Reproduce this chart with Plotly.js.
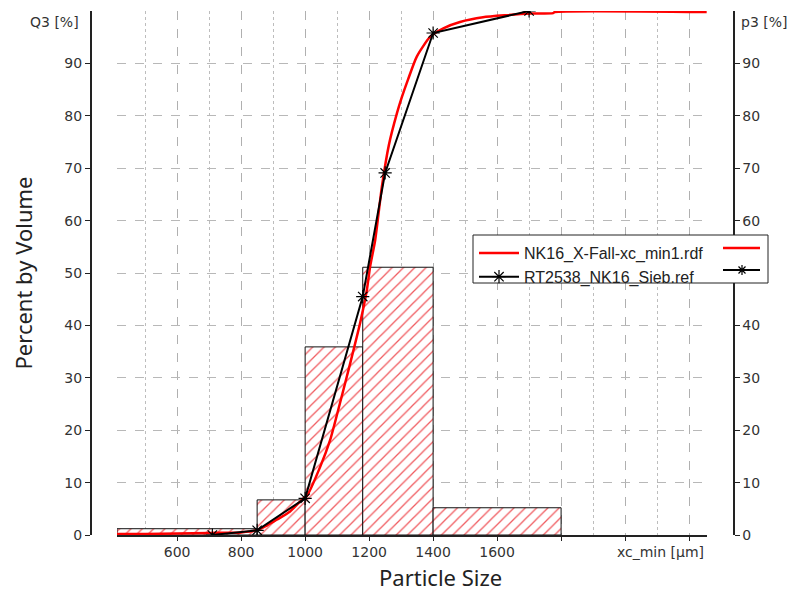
<!DOCTYPE html>
<html>
<head>
<meta charset="utf-8">
<script src="https://cdn.plot.ly/plotly-3.0.1.min.js"></script>
<style>html,body{margin:0;padding:0;background:#fff;}#chart{width:790px;height:591px;}</style>
</head>
<body>
<div id="chart"></div>
<script>
// ---- data ----
const rdfName = 'NK16_X-Fall-xc_min1.rdf';
const sieveName = 'RT2538_NK16_Sieb.ref';

// cumulative Q3 of the rdf file (red)
const rdfSize = [412, 500, 600, 700, 800, 850, 880, 911, 953, 995, 1005, 1047, 1078, 1109, 1141, 1172, 1193, 1203, 1219, 1240, 1262, 1287, 1302, 1322, 1349, 1391, 1432, 1484, 1556, 1630, 1703, 1775, 1780, 2255];
const rdfQ3   = [0.2, 0.2, 0.3, 0.4, 0.5, 0.9, 1.8, 2.9, 4.5, 7.0, 7.4, 13.0, 18.1, 25.2, 32.8, 40.5, 46.8, 51.2, 56.3, 66.5, 74.5, 80.5, 83.5, 87.0, 91.3, 95.1, 96.7, 97.9, 98.8, 99.2, 99.5, 99.6, 99.8, 99.8];

// cumulative Q3 of the sieve reference (black, stars)
const sieveSize = [710, 850, 1000, 1180, 1250, 1400, 1700];
const sieveQ3   = [0, 0.9, 7.0, 45.5, 69.1, 95.8, 100];

// class histogram (hatched bars)
const binEdges   = [412, 850, 1000, 1180, 1400, 1800];
const binHeights = [1.2, 6.7, 35.9, 51.1, 5.2];

// ticks
const xTickVals = [600, 800, 1000, 1200, 1400, 1600, 1800, 2000, 2200];
const xTickText = ['600', '800', '1000', '1200', '1400', '1600', '', '', ''];
const xMinorVals = [500, 700, 900, 1100, 1300, 1500, 1700, 1900, 2100];
const yTickVals = [0, 10, 20, 30, 40, 50, 60, 70, 80, 90];

// ---- build ----
const binCenters = binHeights.map((_, i) => (binEdges[i] + binEdges[i + 1]) / 2);
const binWidths  = binHeights.map((_, i) => binEdges[i + 1] - binEdges[i]);

const tickFont = {family: 'DejaVu Sans', size: 14, color: '#333'};
const titleFont = {family: 'Noto Sans', size: 22, color: '#222'};
const L = 90, R = 57, T = 11, B = 56, W = 790, H = 591;
const pw = W - L - R, ph = H - T - B;
const px = v => (v - L) / pw;
const py = v => (H - B - v) / ph;

const traces = [
  {
    type: 'bar', x: binCenters, y: binHeights, width: binWidths,
    marker: {color: '#ffffff', line: {color: '#111', width: 1},
             pattern: {shape: '/', fillmode: 'overlay', fgcolor: '#f05a5f', fgopacity: 1, size: 8, solidity: 0.16}},
    showlegend: false, hoverinfo: 'skip'
  },
  {
    type: 'scatter', mode: 'lines', name: rdfName, x: rdfSize, y: rdfQ3,
    line: {color: '#ff0000', width: 2.5, shape: 'spline', smoothing: 0.6}
  },
  {
    type: 'scatter', mode: 'lines+markers', name: sieveName, x: sieveSize, y: sieveQ3,
    line: {color: '#000000', width: 2},
    marker: {symbol: 'asterisk-open', size: 11, color: '#000', line: {color: '#000', width: 1.2}}
  },
  {type: 'scatter', x: [], y: [], yaxis: 'y2', showlegend: false, hoverinfo: 'skip'}
];

const layout = {
  width: W, height: H,
  margin: {l: L, r: R, t: T, b: B},
  paper_bgcolor: '#fff', plot_bgcolor: '#fff',
  showlegend: true,
  barmode: 'overlay',
  xaxis: {
    domain: [px(117), px(707)], range: [412, 2256],
    tickmode: 'array', tickvals: xTickVals, ticktext: xTickText,
    ticks: 'outside', ticklen: 4, tickcolor: '#222', tickfont: tickFont,
    showline: true, linecolor: '#222', linewidth: 1.5,
    showgrid: true, gridcolor: '#b0b0b0', griddash: 'dash', gridwidth: 1,
    minor: {tickmode: 'array', tickvals: xMinorVals, showgrid: true, gridcolor: '#bdbdbd', griddash: 'dot', ticks: ''},
    zeroline: false
  },
  yaxis: {
    range: [0, 100], anchor: 'free', position: 0,
    tickmode: 'array', tickvals: yTickVals,
    ticks: 'outside', ticklen: 5, tickcolor: '#222', tickfont: tickFont,
    showline: true, linecolor: '#222', linewidth: 1.5,
    showgrid: true, gridcolor: '#b8b8b8', griddash: 'dash', gridwidth: 1,
    zeroline: false,
    title: {text: 'Percent by Volume', font: titleFont, standoff: 24}
  },
  yaxis2: {
    range: [0, 100], overlaying: 'y', side: 'right', anchor: 'free', position: 1,
    tickmode: 'array', tickvals: yTickVals,
    ticks: 'outside', ticklen: 5, tickcolor: '#222', tickfont: tickFont,
    showline: true, linecolor: '#222', linewidth: 1.5,
    showgrid: false, zeroline: false
  },
  legend: {
    x: px(474), y: py(236), xanchor: 'left', yanchor: 'top',
    bgcolor: 'rgba(0,0,0,0)', borderwidth: 0,
    font: {family: 'Liberation Sans', size: 16, color: '#222'},
    itemwidth: 40, tracegroupgap: 0
  },
  annotations: [
    {text: 'Q3 [%]', xref: 'paper', yref: 'paper', x: px(81), y: py(22), xanchor: 'right', yanchor: 'middle', showarrow: false, font: tickFont},
    {text: 'p3 [%]', xref: 'paper', yref: 'paper', x: px(739), y: py(22), xanchor: 'left', yanchor: 'middle', showarrow: false, font: tickFont},
    {text: 'xc_min [µm]', xref: 'paper', yref: 'paper', x: px(706), y: py(552), xanchor: 'right', yanchor: 'middle', showarrow: false, font: tickFont},
    {text: 'Particle Size', xref: 'paper', yref: 'paper', x: px(440), y: py(577), xanchor: 'center', yanchor: 'middle', showarrow: false, font: titleFont}
  ],
  shapes: [
    {type: 'rect', layer: 'above', xref: 'paper', yref: 'paper', x0: px(473), x1: px(768), y0: py(235), y1: py(283),
     fillcolor: '#ffffff', line: {color: '#222', width: 1}},
    {type: 'line', layer: 'above', xref: 'paper', yref: 'paper', x0: px(723), x1: px(760), y0: py(248), y1: py(248), line: {color: '#ff0000', width: 2.5}},
    {type: 'line', layer: 'above', xref: 'paper', yref: 'paper', x0: px(723), x1: px(760), y0: py(270), y1: py(270), line: {color: '#000', width: 2}},
    {type: 'path', layer: 'above', xref: 'paper', yref: 'paper', xsizemode: 'pixel', ysizemode: 'pixel', xanchor: px(742), yanchor: py(270),
     path: 'M-5,0L5,0M0,-5L0,5M-3.5,-3.5L3.5,3.5M-3.5,3.5L3.5,-3.5', line: {color: '#000', width: 1.2}}
  ]
};

Plotly.newPlot('chart', traces, layout, {displayModeBar: false, staticPlot: true});
</script>
</body>
</html>
